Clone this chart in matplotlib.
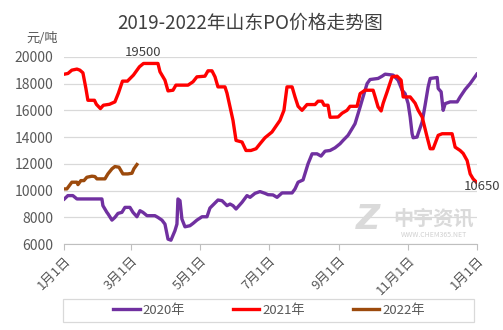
import matplotlib
matplotlib.use("Agg")
import matplotlib.pyplot as plt
from matplotlib.patches import Rectangle

plt.rcParams['font.family'] = ['Noto Sans CJK SC', 'DejaVu Sans']

# day of year (0 = 1月1日) and price, yuan/ton
days_2020 = [0, 3.1, 7.5, 11.1, 33.2, 34.1, 37.6, 38.5, 42.1, 44.7, 47.4, 50.9, 53.6, 58.0,
             60.7, 64.2, 66.9, 69.5, 73.1, 80.1, 82.8, 86.3, 89.0, 91.7, 94.3, 97.8, 99.6,
             100.5, 102.3, 104.0, 106.7, 111.1, 113.8, 117.3, 121.8, 126.2, 128.8, 135.9,
             139.5, 143.9, 146.6, 149.2, 151.9, 157.2, 161.6, 164.3, 168.7, 173.1, 177.5,
             180.2, 184.6, 188.2, 192.6, 201.5, 204.1, 206.8, 211.2, 215.6, 219.2, 223.6,
             227.1, 230.7, 235.1, 239.5, 243.9, 246.6, 251.0, 254.6, 257.2, 261.7, 264.3,
             267.9, 270.5, 277.6, 281.2, 283.8, 290.9, 295.3, 298.9, 301.5, 304.2, 306.0,
             307.7, 308.6, 312.1, 313.0, 316.6, 319.2, 321.9, 323.7, 329.9, 330.8, 333.4,
             335.2, 337.0, 341.4, 347.6, 350.2, 354.6, 359.1, 365]
price_2020 = [9380, 9630, 9630, 9380, 9380, 8880, 8380, 8280, 7800, 8000, 8300, 8380, 8750, 8750,
              8380, 8050, 8500, 8380, 8130, 8130, 8000, 7800, 7500, 6380, 6300, 7000, 7500,
              9380, 9250, 7880, 7300, 7380, 7550, 7800, 8050, 8050, 8700, 9300,
              9250, 8880, 9000, 8880, 8630, 9130, 9630, 9500, 9800, 9930, 9800,
              9700, 9680, 9500, 9830, 9830, 10130, 10630, 10800, 12000, 12750, 12750,
              12580, 12950, 13000, 13200, 13500, 13750, 14130, 14630, 15000, 16250, 17000,
              18000, 18300, 18380, 18550, 18700, 18630, 18250, 17500, 17250, 16500, 15500,
              14250, 13950, 14000, 14250, 15130, 16380, 17750, 18380, 18450, 17630, 17380,
              16000, 16500, 16630, 16630, 17000, 17550, 18000, 18700]

days_2021 = [0, 3.1, 6.6, 11.1, 13.7, 16.4, 19.0, 20.8, 26.6, 28.3, 31.9, 34.5, 39.9, 44.7,
             47.8, 51.4, 55.8, 61.1, 66.4, 70.0, 82.8, 84.6, 89.0, 91.7, 96.1, 98.7, 109.4,
             113.8, 117.3, 124.4, 127.1, 130.6, 133.3, 135.9, 142.1, 143.9, 146.6, 149.2,
             151.9, 157.2, 160.7, 165.1, 169.6, 173.1, 177.5, 183.7, 190.8, 194.3, 197.0,
             201.5, 204.1, 206.8, 210.3, 214.7, 221.8, 224.5, 228.0, 229.8, 233.3, 235.1,
             242.2, 245.7, 250.1, 252.8, 259.0, 261.7, 266.1, 273.2, 275.0, 277.6, 280.3,
             282.1, 285.6, 290.0, 294.4, 298.0, 299.8, 306.0, 310.4, 313.1, 316.6, 321.0,
             323.7, 326.3, 330.8, 334.3, 343.1, 345.8, 350.2, 352.9, 356.4, 359.1, 361.7, 364.4]
price_2021 = [18700, 18750, 19000, 19080, 19000, 18800, 17650, 16750, 16750, 16450, 16130, 16380,
              16450, 16630, 17280, 18180, 18180, 18630, 19250, 19500, 19500, 18880, 18250, 17450,
              17500, 17880, 17880, 18130, 18500, 18550, 18950, 18950, 18500, 17750, 17750, 17280,
              16250, 15250, 13750, 13630, 13000, 13000, 13130, 13500, 13950, 14380, 15250, 16000,
              17750, 17750, 17000, 16300, 16000, 16430, 16430, 16680, 16680, 16380, 16380, 15480,
              15500, 15780, 16000, 16300, 16300, 17250, 17500, 17500, 17000, 16250, 15950, 16530,
              17380, 18500, 18550, 18250, 17000, 17000, 16530, 16000, 15500, 14000, 13130, 13130,
              14130, 14250, 14250, 13250, 13000, 12780, 12250, 11250, 10880, 10650]

days_2022 = [0, 2.2, 6.6, 11.1, 12.0, 14.6, 17.3, 19.9, 24.4, 27.0, 28.8, 35.9, 38.5, 42.1,
             44.7, 48.3, 51.8, 56.2, 59.8, 61.5, 64.2]
price_2022 = [10130, 10130, 10630, 10630, 10450, 10750, 10750, 11000, 11080, 11050, 10880, 10880,
              11250, 11630, 11800, 11750, 11250, 11250, 11300, 11630, 11950]

tick_days = [0, 59, 120, 181, 243, 304, 365]
tick_labels = ['1月1日', '3月1日', '5月1日', '7月1日', '9月1日', '11月1日', '1月1日']
y_ticks = list(range(6000, 20001, 2000))

fig = plt.figure(figsize=(5.03, 3.30), dpi=100)
ax = fig.add_axes([0.128, 0.260, 0.820, 0.568])

grey_txt = '#595959'
l1, = ax.plot(days_2020, price_2020, color='#7030a0', lw=2.4, solid_joinstyle='round')
l2, = ax.plot(days_2021, price_2021, color='#ff0000', lw=2.4, solid_joinstyle='round')
l3, = ax.plot(days_2022, price_2022, color='#9c4a0c', lw=2.4, solid_joinstyle='round')

ax.set_xlim(0, 365)
ax.set_ylim(6000, 20000)
ax.set_yticks(y_ticks)
ax.set_yticklabels([str(v) for v in y_ticks])
ax.set_xticks(tick_days)
ax.set_xticklabels(tick_labels, rotation=45, ha='right', rotation_mode='anchor')
ax.grid(axis='y', color='#d9d9d9', lw=0.9)
ax.set_axisbelow(True)
for s in ['top', 'right', 'left']:
    ax.spines[s].set_visible(False)
ax.spines['bottom'].set_color('#bfbfbf')
ax.tick_params(axis='y', length=0, pad=8, labelsize=10, labelcolor=grey_txt)
ax.tick_params(axis='x', length=4, color='#bfbfbf', pad=3, labelsize=9.5, labelcolor=grey_txt)

# data labels
ax.annotate('19500', xy=(days_2021[19], price_2021[19]), xytext=(0, 3), textcoords='offset points',
            ha='center', va='bottom', fontsize=9.5, color='#404040')
ax.annotate('10650', xy=(days_2021[-1], price_2021[-1]), xytext=(-9, -3), textcoords='offset points',
            ha='left', va='center', fontsize=9.5, color='#404040')

fig.text(0.497, 0.930, '2019-2022年山东PO价格走势图', ha='center', va='center',
         fontsize=13.5, color='#404040')
fig.text(0.115, 0.882, '元/吨', ha='right', va='center', fontsize=9.5, color=grey_txt)

# watermark
fig.text(0.732, 0.335, 'Z', ha='center', va='center', fontsize=24, fontweight='bold',
         style='italic', color='#dadada', family='DejaVu Sans')
fig.text(0.862, 0.338, '中宇资讯', ha='center', va='center', fontsize=14.5, fontweight='bold',
         color='#dadada')
fig.text(0.862, 0.288, 'WWW.CHEM365.NET', ha='center', va='center', fontsize=5, color='#d0d0d0')

leg = fig.legend([l1, l2, l3], ['2020年', '2021年', '2022年'], loc='center',
                 bbox_to_anchor=(0.535, 0.059), ncol=3, frameon=False, fontsize=9.5,
                 handlelength=2.0, handletextpad=0.25, columnspacing=3.6)
for t in leg.get_texts():
    t.set_color(grey_txt)
fig.patches.append(Rectangle((63 / 503, 1 - 322 / 330), 411 / 503, 23 / 330,
                             transform=fig.transFigure, fill=False, edgecolor='#d9d9d9', lw=0.9))

fig.savefig('out.png', dpi=100)
